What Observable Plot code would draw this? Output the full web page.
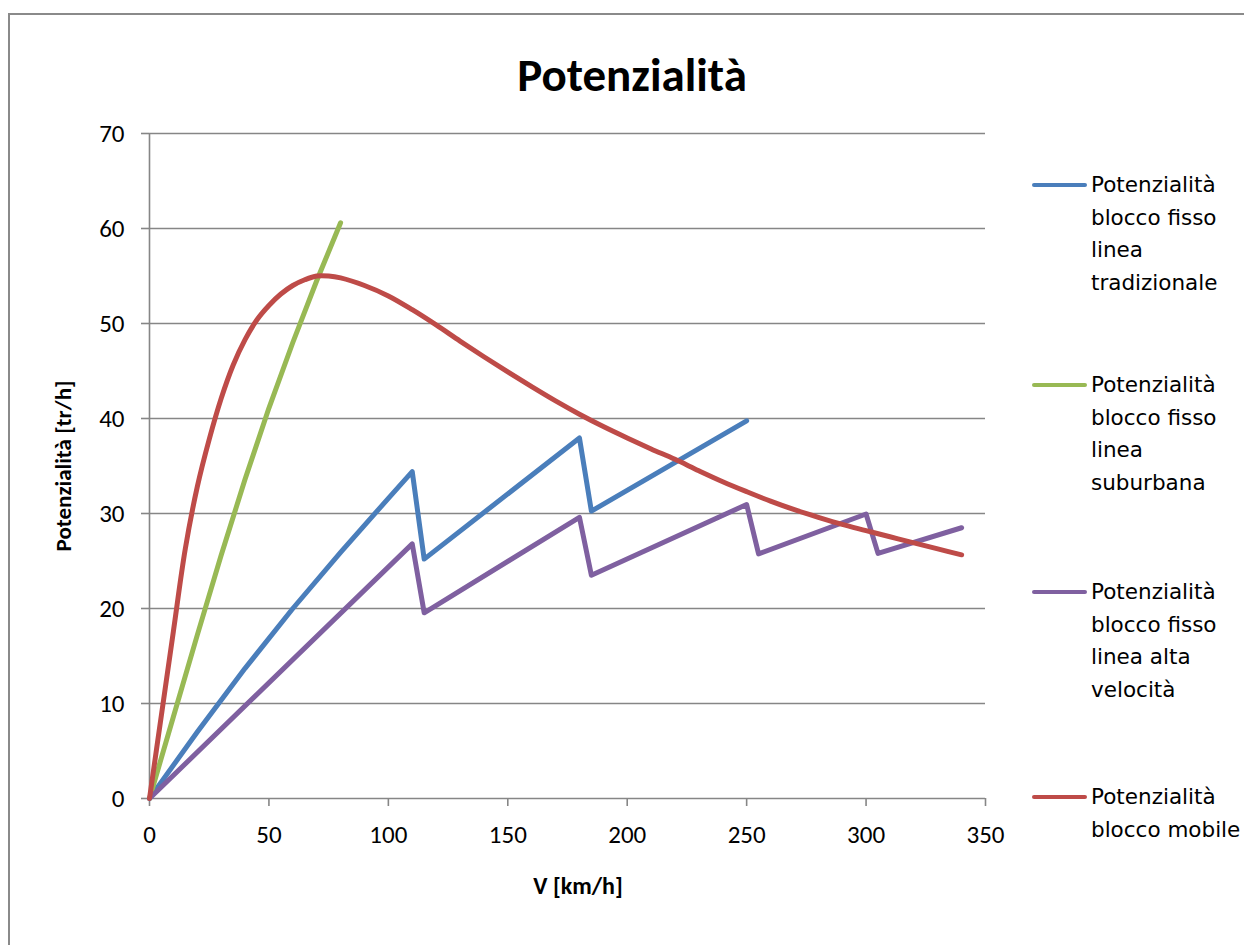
<!DOCTYPE html>
<html>
<head>
<meta charset="utf-8">
<script src="https://cdn.jsdelivr.net/npm/d3@7"></script>
<script src="https://cdn.jsdelivr.net/npm/@observablehq/plot@0.6"></script>
<style>
  html, body { margin: 0; padding: 0; background: #fff; }
  #wrap { position: relative; width: 1244px; height: 945px; overflow: hidden;
          font-family: Calibri, Carlito, Lato, "Noto Sans", sans-serif; color: #000; }
  #frame { position: absolute; left: 8px; top: 13px; width: 1300px; height: 1000px;
           border-top: 2px solid #8a8a8a; border-left: 2px solid #8a8a8a; }
  #chart { position: absolute; left: 0; top: 0; }
  .title { position: absolute; left: 632px; top: 75px; transform: translate(-50%, -50%);
           font-size: 47px; font-weight: bold; white-space: nowrap; line-height: 1; }
  .ylab { position: absolute; left: 63px; top: 466px; transform: translate(-50%, -50%) rotate(-90deg);
          font-size: 23px; font-weight: bold; white-space: nowrap; line-height: 1; }
  .xlab { position: absolute; left: 578px; top: 886px; transform: translate(-50%, -50%);
          font-size: 24px; font-weight: bold; white-space: nowrap; line-height: 1; }
  .leg { position: absolute; left: 1032px; }
  .leg .sw { position: absolute; left: 0; width: 55px; height: 4px; border-radius: 2px; }
  .leg .tx { position: absolute; left: 59px; font-family: "DejaVu Sans", Verdana, sans-serif;
             font-size: 21.5px; line-height: 32.5px; white-space: nowrap; }
</style>
</head>
<body>
<div id="wrap">
  <div id="frame"></div>
  <div id="chart"></div>
  <div class="title">Potenzialità</div>
  <div class="ylab">Potenzialità [tr/h]</div>
  <div class="xlab">V [km/h]</div>
  <div id="legend"></div>
</div>
<script>
// Axis ticks
const xTicks = [0, 50, 100, 150, 200, 250, 300, 350];
const yTicks = [0, 10, 20, 30, 40, 50, 60, 70];

// Fixed block, traditional line
const vTradizionale = [0, 20, 40, 60, 80, 100, 110, 115, 180, 185, 250];
const pTradizionale = [0, 7.0, 13.7, 20.0, 25.9, 31.6, 34.4, 25.2, 37.95, 30.25, 39.75];

// Fixed block, suburban line
const vSuburbana = [0, 10, 20, 30, 40, 50, 60, 70, 80];
const pSuburbana = [0, 8.6, 17.2, 25.6, 33.6, 41.1, 48.0, 54.5, 60.6];

// Fixed block, high-speed line
const vAltaVelocita = [0, 110, 115, 180, 185, 250, 255, 300, 305, 340];
const pAltaVelocita = [0, 26.8, 19.55, 29.6, 23.5, 30.95, 25.75, 29.95, 25.8, 28.5];

// Moving block
const vMobile = [0, 5, 10, 15, 20, 25, 30, 35, 40, 45, 50, 55, 60, 65, 70, 75, 80, 90, 100, 110, 120, 130, 140, 150,
                 160, 170, 180, 190, 200, 210, 220, 230, 240, 250, 260, 270, 280, 290, 300, 310, 320, 330, 340];
const pMobile = [0, 8.8, 17.6, 26.3, 32.8, 37.8, 42.1, 45.6, 48.3, 50.4, 51.9, 53.1, 54.0, 54.6, 55.0, 55.0, 54.8, 54.0, 52.9, 51.45, 49.85, 48.15, 46.5, 44.9,
                 43.35, 41.85, 40.45, 39.15, 37.95, 36.8, 35.7, 34.5, 33.35, 32.3, 31.3, 30.4, 29.6, 28.85, 28.2, 27.55, 26.9, 26.27, 25.65];

const seriesNames = [
  ["Potenzialità", "blocco fisso", "linea", "tradizionale"],
  ["Potenzialità", "blocco fisso", "linea", "suburbana"],
  ["Potenzialità", "blocco fisso", "linea alta", "velocità"],
  ["Potenzialità", "blocco mobile"]
];
const seriesColors = ["#4a7ebb", "#98b954", "#7f60a0", "#be4b48"];

const toRows = (vs, ps) => vs.map((v, i) => ({v, p: ps[i]}));
const series = [
  {rows: toRows(vTradizionale, pTradizionale), curve: "linear"},
  {rows: toRows(vSuburbana, pSuburbana), curve: "linear"},
  {rows: toRows(vAltaVelocita, pAltaVelocita), curve: "linear"},
  {rows: toRows(vMobile, pMobile), curve: "catmull-rom"}
];

const gridColor = "#868686";
const tickFont = 25;

const chart = Plot.plot({
  width: 1244,
  height: 945,
  marginLeft: 149,
  marginRight: 259,
  marginTop: 133,
  marginBottom: 147,
  style: {fontFamily: "Calibri, Carlito, Lato, 'Noto Sans', sans-serif", fontSize: tickFont + "px", background: "transparent", overflow: "visible"},
  x: {domain: [0, 350]},
  y: {domain: [0, 70]},
  marks: [
    Plot.gridY({ticks: yTicks.filter(d => d > 0), stroke: gridColor, strokeOpacity: 1, strokeWidth: 1.6}),
    Plot.axisY({ticks: yTicks, tickSize: 8, tickPadding: 17, stroke: gridColor, strokeWidth: 1.6, fill: "#000", fontSize: tickFont, label: null}),
    Plot.axisX({ticks: xTicks, tickSize: 8, tickPadding: 19, stroke: gridColor, strokeWidth: 1.6, fill: "#000", fontSize: tickFont, label: null}),
    Plot.ruleY([0], {stroke: gridColor, strokeWidth: 1.6}),
    Plot.ruleX([0], {stroke: gridColor, strokeWidth: 1.6}),
    ...series.map((s, i) => Plot.line(s.rows, {
      x: "v", y: "p", stroke: seriesColors[i], strokeWidth: 5,
      curve: s.curve, strokeLinejoin: "round", strokeLinecap: "round"
    }))
  ]
});
document.getElementById("chart").appendChild(chart);

// Legend on the right
const legendTops = [185, 385, 592, 797];
const legend = document.getElementById("legend");
seriesNames.forEach((lines, i) => {
  const item = document.createElement("div");
  item.className = "leg";
  item.style.top = legendTops[i] + "px";
  const sw = document.createElement("div");
  sw.className = "sw";
  sw.style.top = "-2px";
  sw.style.background = seriesColors[i];
  const tx = document.createElement("div");
  tx.className = "tx";
  tx.style.top = "-16px";
  tx.innerHTML = lines.join("<br>");
  item.appendChild(sw);
  item.appendChild(tx);
  legend.appendChild(item);
});
</script>
</body>
</html>
